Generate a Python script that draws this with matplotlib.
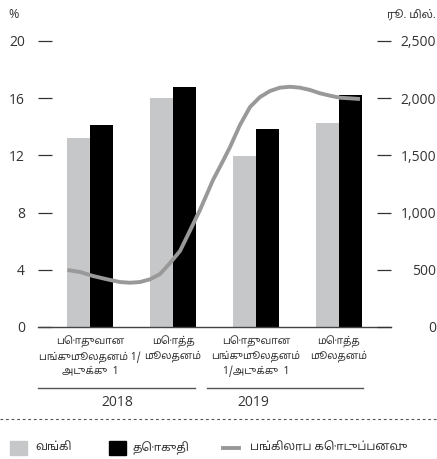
import matplotlib
matplotlib.use('Agg')
import matplotlib.pyplot as plt
from matplotlib.patches import Rectangle
from matplotlib.lines import Line2D
from matplotlib.ticker import FuncFormatter
import numpy as np

# ---- data ----
categories = ["பொதுவான\nபங்குமூலதனம் 1/\nஅடுக்கு  1", "மொத்த\nமூலதனம்",
              "பொதுவான\nபங்குமூலதனம்\n1/அடுக்கு  1", "மொத்த\nமூலதனம்"]
years = ["2018", "2019"]
bank = [13.2, 16.0, 11.95, 14.25]
sector = [14.1, 16.8, 13.85, 16.2]
div_x = [-0.273, -0.120, 0.036, 0.205, 0.361, 0.482, 0.602, 0.723, 0.843, 0.964,
         1.084, 1.169, 1.325, 1.482, 1.590, 1.687, 1.807, 1.928, 2.048, 2.169,
         2.289, 2.410, 2.530, 2.651, 2.771, 2.892, 3.012, 3.133, 3.253]
div_values = [498, 481, 446, 417, 393, 387, 393, 417, 463, 559,
              664, 790, 1023, 1285, 1434, 1573, 1766, 1923, 2010, 2063,
              2092, 2100, 2092, 2072, 2043, 2022, 2004, 1999, 1993]
left_ticks = [0, 4, 8, 12, 16, 20]
right_ticks = [0, 500, 1000, 1500, 2000, 2500]
series_names = ["வங்கி", "தொகுதி", "பங்கிலாப கொடுப்பனவு"]
left_unit = "%"
right_unit = "ரூ. மில்."

TAMIL = ['Noto Sans Tamil', 'Noto Serif Tamil', 'Lohit Tamil', 'FreeSans', 'DejaVu Sans']
NUM = ['Open Sans', 'DejaVu Sans']
GRAY_BAR = '#c6c7c9'
LINE_GRAY = '#999999'
TXT = '#333333'

W, H = 437, 459
fig = plt.figure(figsize=(W / 100, H / 100), dpi=100)
ax = fig.add_axes([38 / W, 1 - 327 / H, (391 - 38) / W, (327 - 41) / H])
ax2 = ax.twinx()

x = np.arange(len(categories))
bw = 0.277
ax.bar(x - bw / 2, bank, width=bw, color=GRAY_BAR, zorder=2)
ax.bar(x + bw / 2, sector, width=bw, color='black', zorder=2)
ax.set_xlim(-0.627, 3.627)
ax.set_ylim(0, 20)
ax.set_yticks(left_ticks)
ax.set_yticklabels([str(t) for t in left_ticks], family=NUM)

ax2.plot(div_x, div_values, color=LINE_GRAY, lw=2.8, solid_capstyle='butt',
         solid_joinstyle='round', zorder=3)
ax2.set_ylim(0, 2500)
ax2.set_yticks(right_ticks)
ax2.yaxis.set_major_formatter(FuncFormatter(lambda v, p: f"{int(v):,}"))

for a in (ax, ax2):
    for s in ['top', 'left', 'right']:
        a.spines[s].set_visible(False)
ax2.spines['bottom'].set_visible(False)
ax.spines['bottom'].set_color('#444444')
ax.spines['bottom'].set_linewidth(1.0)

ax.tick_params(axis='y', direction='in', length=10, width=0.9, color=TXT,
               pad=9.4, labelsize=10, labelcolor=TXT)
ax2.tick_params(axis='y', direction='in', length=10, width=0.9, color=TXT,
                pad=32.4, labelsize=10, labelcolor=TXT)
for lab in ax2.get_yticklabels():
    lab.set_ha('right')
    lab.set_family(NUM)

ax.set_xticks(x)
ax.set_xticklabels(categories, family=TAMIL, fontsize=7.3, color=TXT, linespacing=1.35)
ax.tick_params(axis='x', length=0, pad=6)

# units
fig.text(8 / W, 1 - 14 / H, left_unit, fontsize=9, color=TXT, family=NUM, va='center', ha='left')
fig.text(436 / W, 1 - 15 / H, right_unit, fontsize=8, color=TXT, family=TAMIL, va='center', ha='right')

# year groups
fig.add_artist(Line2D([38 / W, 195 / W], [1 - 388 / H] * 2, color='#555555', lw=1))
fig.add_artist(Line2D([207 / W, 363 / W], [1 - 388 / H] * 2, color='#555555', lw=1))
fig.text(117 / W, 1 - 402 / H, years[0], fontsize=10, color=TXT, family=NUM, ha='center', va='center')
fig.text(253 / W, 1 - 402 / H, years[1], fontsize=10, color=TXT, family=NUM, ha='center', va='center')

# separator
fig.add_artist(Line2D([0, 1], [1 - 419 / H] * 2, color='#555555', lw=0.8, linestyle=(0, (2.5, 2.5))))

# legend
ly = 1 - 448 / H
fig.add_artist(Rectangle((10 / W, ly - 7 / H), 17 / W, 14 / H, color=GRAY_BAR, transform=fig.transFigure))
fig.add_artist(Rectangle((109 / W, ly - 7 / H), 17 / W, 14 / H, color='black', transform=fig.transFigure))
fig.add_artist(Line2D([223 / W, 239 / W], [ly, ly], color=LINE_GRAY, lw=2.8))
fig.text(35 / W, ly, series_names[0], fontsize=8.3, color=TXT, family=TAMIL, va='center', ha='left')
fig.text(132 / W, ly, series_names[1], fontsize=8.3, color=TXT, family=TAMIL, va='center', ha='left')
fig.text(250 / W, ly, series_names[2], fontsize=8.3, color=TXT, family=TAMIL, va='center', ha='left')

fig.savefig('out.png', dpi=100)
